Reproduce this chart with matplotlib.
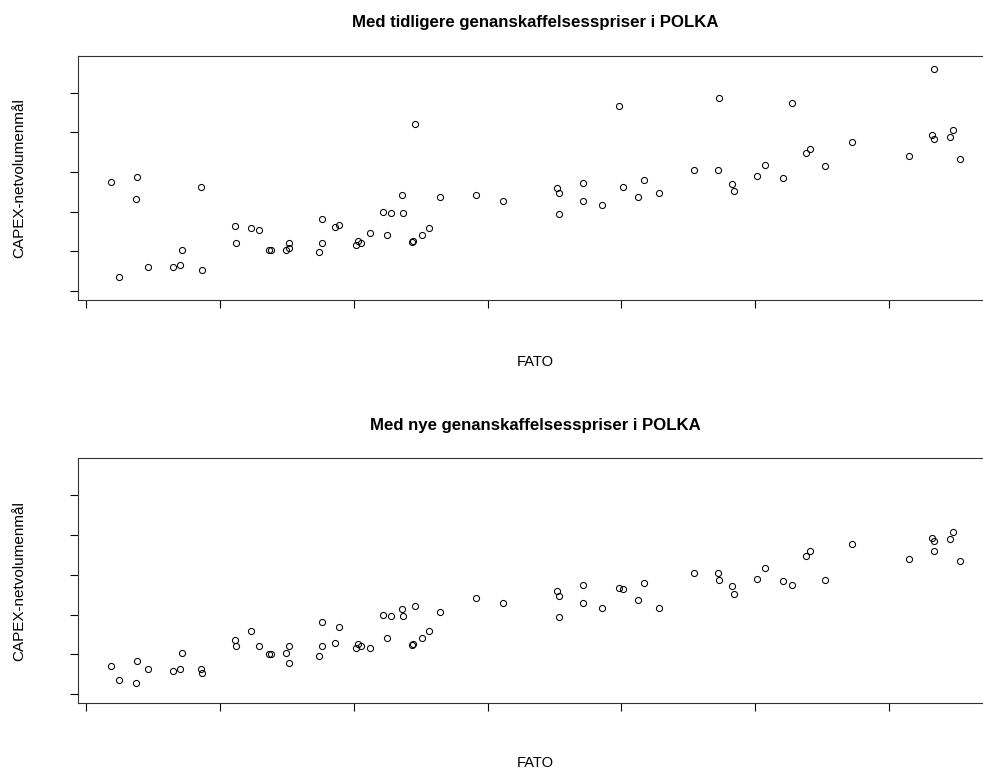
import matplotlib
matplotlib.use("Agg")
import matplotlib.pyplot as plt

plt.rcParams['font.family'] = ['Liberation Sans', 'DejaVu Sans']

# FATO (x) - shared by both panels
fato = [1.89, 2.44, 3.78, 3.71, 4.64, 6.51, 7.00, 7.13, 8.60, 8.68,
        11.11, 11.19, 12.34, 12.89, 13.69, 13.81, 14.96, 15.15, 15.15, 17.37,
        17.62, 17.62, 18.62, 18.92, 20.16, 20.31, 20.54, 21.19, 22.18, 22.46,
        22.78, 23.58, 23.66, 24.33, 24.41, 24.61, 25.13, 25.65, 26.45, 29.14,
        31.16, 35.18, 35.33, 35.38, 37.12, 37.17, 38.52, 39.84, 40.13, 41.26,
        41.66, 42.80, 45.47, 47.22, 47.34, 48.29, 48.44, 50.16, 50.71, 52.06,
        52.73, 53.78, 54.12, 55.24, 57.26, 61.48, 63.22, 63.35, 63.35, 64.57,
        64.82, 65.32]

# CAPEX-netvolumenmål, old replacement prices
capex_old = [2.75, 0.36, 2.86, 2.32, 0.61, 0.59, 0.64, 1.04, 2.62, 0.52,
             1.64, 1.20, 1.58, 1.54, 1.02, 1.02, 1.04, 1.08, 1.20, 0.97,
             1.80, 1.20, 1.60, 1.67, 1.15, 1.27, 1.20, 1.47, 1.98, 1.42,
             1.96, 2.43, 1.96, 1.23, 1.27, 4.21, 1.40, 1.58, 2.37, 2.41,
             2.27, 2.60, 2.48, 1.94, 2.27, 2.73, 2.17, 4.67, 2.63, 2.37,
             2.80, 2.48, 3.05, 3.05, 4.87, 2.70, 2.53, 2.89, 3.17, 2.85,
             4.74, 3.47, 3.58, 3.16, 3.76, 3.40, 3.92, 3.83, 5.59, 3.88,
             4.06, 3.33]

# CAPEX-netvolumenmål, new replacement prices
capex_new = [0.72, 0.36, 0.83, 0.29, 0.62, 0.58, 0.63, 1.04, 0.62, 0.52,
             1.36, 1.20, 1.58, 1.22, 1.02, 1.02, 1.04, 0.79, 1.20, 0.97,
             1.81, 1.20, 1.29, 1.68, 1.15, 1.26, 1.20, 1.15, 1.99, 1.42,
             1.96, 2.13, 1.96, 1.24, 1.26, 2.21, 1.40, 1.58, 2.06, 2.42,
             2.28, 2.60, 2.47, 1.94, 2.28, 2.74, 2.16, 2.66, 2.64, 2.37,
             2.80, 2.16, 3.05, 3.05, 2.87, 2.71, 2.53, 2.89, 3.18, 2.85,
             2.74, 3.48, 3.59, 2.87, 3.77, 3.41, 3.93, 3.84, 3.60, 3.89,
             4.07, 3.34]

titles = ["Med tidligere genanskaffelsesspriser i POLKA",
          "Med nye genanskaffelsesspriser i POLKA"]
xlabel = "FATO"
ylabel = "CAPEX-netvolumenmål"
xticks = [0, 10, 20, 30, 40, 50, 60]
yticks = [0, 1, 2, 3, 4, 5]

W, H = 983, 771
fig = plt.figure(figsize=(W / 100, H / 100), dpi=100)

def frac_rect(left, top, right, bottom):
    return [left / W, 1 - bottom / H, (right - left) / W, (bottom - top) / H]

panels = [
    dict(rect=frac_rect(77.5, 55.7, 994, 300), y=capex_old, title_y=22, xlab_y=362),
    dict(rect=frac_rect(77.5, 458.3, 994, 703.3), y=capex_new, title_y=425, xlab_y=763),
]

for p, title in zip(panels, titles):
    ax = fig.add_axes(p['rect'])
    ax.plot(fato, p['y'], linestyle='none', marker='o', markersize=4.4,
            markerfacecolor='none', markeredgecolor='black', markeredgewidth=0.75)
    ax.set_xlim(-0.65, 67.86)
    ax.set_ylim(-0.23, 5.93)
    ax.set_xticks(xticks)
    ax.set_yticks(yticks)
    ax.set_xticklabels([])
    ax.set_yticklabels([])
    ax.tick_params(direction='out', length=6, width=0.8, color='black')
    for s in ax.spines.values():
        s.set_linewidth(0.8)
        s.set_color('#333333')
    top_px = (1 - p['rect'][1] - p['rect'][3]) * H
    bot_px = (1 - p['rect'][1]) * H
    fig.text(535.5 / W, 1 - p['title_y'] / H, title, ha='center', va='center',
             fontsize=12.1, fontweight='bold', color='black')
    fig.text(535.5 / W, 1 - p['xlab_y'] / H, xlabel, ha='center', va='center',
             fontsize=10.5, color='black')
    fig.text(19 / W, 1 - ((top_px + bot_px) / 2) / H, ylabel, ha='center', va='center',
             rotation=90, fontsize=11, color='black')

fig.savefig('out.png', dpi=100)
